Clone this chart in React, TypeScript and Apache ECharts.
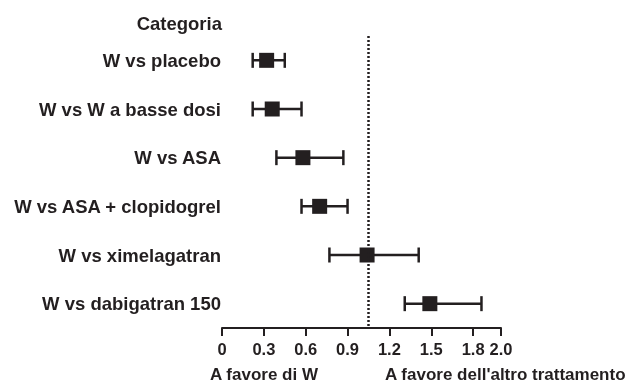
import React, { useEffect, useRef } from "react";
import * as echarts from "echarts";

const headerLabel = "Categoria";
const categories = [
  "W vs placebo",
  "W vs W a basse dosi",
  "W vs ASA",
  "W vs ASA + clopidogrel",
  "W vs ximelagatran",
  "W vs dabigatran 150",
];
const estimates = [0.32, 0.36, 0.58, 0.7, 1.04, 1.49];
const lower = [0.22, 0.22, 0.39, 0.57, 0.77, 1.31];
const upper = [0.45, 0.57, 0.87, 0.9, 1.41, 1.86];
const referenceValue = 1.05;
const xMin = 0;
const xMax = 2.0;
const xInterval = 0.3;
const leftNote = "A favore di W";
const rightNote = "A favore dell'altro trattamento";

const FONT = '"Liberation Sans", Arial, Helvetica, sans-serif';
const INK = "#231f20";

export default function App() {
  const ref = useRef<HTMLDivElement>(null);
  useEffect(() => {
    if (!ref.current) return;
    const chart = echarts.init(ref.current, null, { renderer: "svg" });
    const data = categories.map((_, i) => [i, lower[i], estimates[i], upper[i]]);
    chart.setOption({
      animation: false,
      grid: { left: 222, right: 125, top: 36, bottom: 56, containLabel: false },
      xAxis: {
        type: "value",
        min: xMin,
        max: xMax,
        interval: xInterval,
        splitLine: { show: false },
        axisLine: { show: true, lineStyle: { color: INK, width: 2 } },
        axisTick: { show: true, inside: false, length: 8, lineStyle: { color: INK, width: 2 } },
        axisLabel: {
          margin: 12,
          color: INK,
          fontFamily: FONT,
          fontWeight: "bold",
          fontSize: 16.5,
          showMinLabel: true,
          showMaxLabel: true,
          formatter: (v: number) => (v === 0 ? "0" : v.toFixed(1)),
        },
      },
      yAxis: {
        type: "category",
        data: categories,
        inverse: true,
        axisLine: { show: false },
        axisTick: { show: false },
        splitLine: { show: false },
        axisLabel: {
          margin: 1,
          color: INK,
          fontFamily: FONT,
          fontWeight: "bold",
          fontSize: 18.5,
        },
      },
      graphic: [
        {
          type: "text",
          x: 222,
          y: 23,
          style: {
            text: headerLabel,
            fill: INK,
            fontFamily: FONT,
            fontWeight: "bold",
            fontSize: 18.5,
            align: "right",
            verticalAlign: "middle",
          },
        },
        {
          type: "text",
          x: 210,
          y: 374,
          style: {
            text: leftNote,
            fill: INK,
            fontFamily: FONT,
            fontWeight: "bold",
            fontSize: 17,
            align: "left",
            verticalAlign: "middle",
          },
        },
        {
          type: "text",
          x: 385,
          y: 374,
          style: {
            text: rightNote,
            fill: INK,
            fontFamily: FONT,
            fontWeight: "bold",
            fontSize: 17,
            align: "left",
            verticalAlign: "middle",
          },
        },
      ],
      series: [
        {
          type: "custom",
          data,
          encode: { x: [1, 2, 3], y: 0 },
          renderItem: (params: any, api: any) => {
            const idx = api.value(0);
            const lo = api.coord([api.value(1), idx]);
            const mid = api.coord([api.value(2), idx]);
            const hi = api.coord([api.value(3), idx]);
            const cap = 7.5;
            const half = 7.5;
            const st = { stroke: INK, lineWidth: 2.5 };
            return {
              type: "group",
              children: [
                { type: "line", shape: { x1: lo[0], y1: lo[1], x2: hi[0], y2: hi[1] }, style: st },
                { type: "line", shape: { x1: lo[0], y1: lo[1] - cap, x2: lo[0], y2: lo[1] + cap }, style: st },
                { type: "line", shape: { x1: hi[0], y1: hi[1] - cap, x2: hi[0], y2: hi[1] + cap }, style: st },
                {
                  type: "rect",
                  shape: { x: mid[0] - half, y: mid[1] - half, width: half * 2, height: half * 2 },
                  style: { fill: INK },
                },
              ],
            };
          },
          markLine: {
            silent: true,
            symbol: "none",
            label: { show: false },
            lineStyle: { color: INK, width: 2.5, type: [2, 2] },
            data: [{ xAxis: referenceValue }],
          },
          z: 3,
        },
      ],
    });
    return () => chart.dispose();
  }, []);
  return (
    <div
      ref={ref}
      style={{ position: "fixed", left: 0, top: 0, width: 626, height: 384 }}
    />
  );
}
